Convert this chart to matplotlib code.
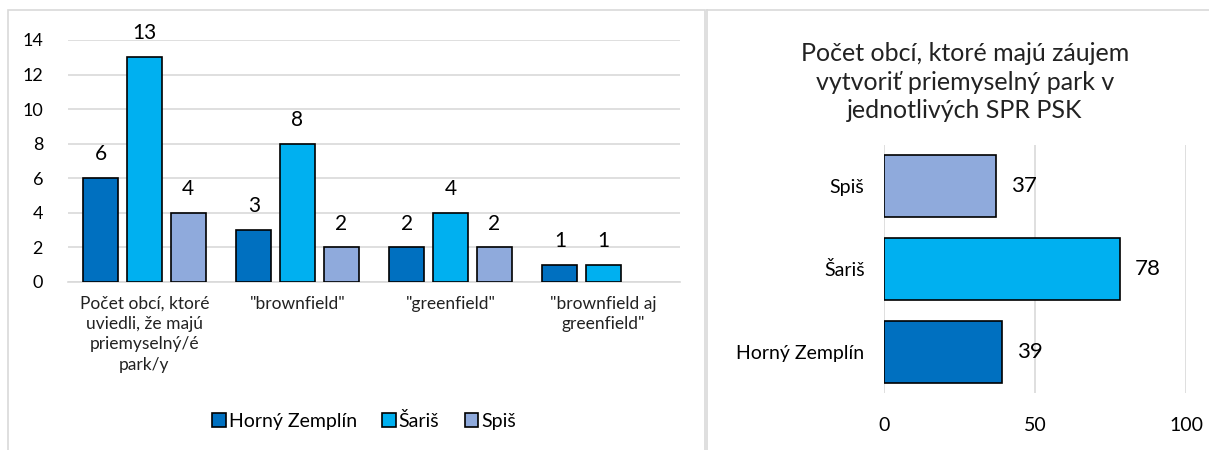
import matplotlib.pyplot as plt
import numpy as np
from matplotlib.patches import Rectangle
from matplotlib.lines import Line2D

plt.rcParams['font.family'] = ['Lato', 'DejaVu Sans']

# left chart data
categories = ['Počet obcí, ktoré\nuviedli, že majú\npriemyselný/é\npark/y',
              '"brownfield"', '"greenfield"', '"brownfield aj\ngreenfield"']
series_names = ['Horný Zemplín', 'Šariš', 'Spiš']
horny_zemplin = [6, 3, 2, 1]
saris = [13, 8, 4, 1]
spis = [4, 2, 2, 0]

# right chart data
regions = ['Horný Zemplín', 'Šariš', 'Spiš']
interest = [39, 78, 37]

colors = ['#0070C0', '#00B0F0', '#8FAADC']
grid_col = '#D9D9D9'

W, H = 1209, 450
fig = plt.figure(figsize=(W / 100, H / 100), dpi=100)


def px(x0, y0, x1, y1):
    # pixel box (top-left origin) -> figure fraction rect
    return [x0 / W, 1 - y1 / H, (x1 - x0) / W, (y1 - y0) / H]


# panel borders
fig.patches.append(Rectangle((8 / W, -0.1), (705 - 8) / W, 1.1 - 10 / H,
                             transform=fig.transFigure, fill=False,
                             edgecolor=grid_col, lw=1.2))
fig.lines.append(Line2D([707 / W, 707 / W], [0, 1 - 10 / H], transform=fig.transFigure,
                        color=grid_col, lw=1.2))
fig.lines.append(Line2D([707 / W, 1], [1 - 10 / H, 1 - 10 / H], transform=fig.transFigure,
                        color=grid_col, lw=1.2))

# ---- left grouped bar chart
ax = fig.add_axes(px(68, 40, 680, 282))
x = np.arange(len(categories))
step = 0.285
bw = 0.23
for i, (name, vals) in enumerate(zip(series_names, [horny_zemplin, saris, spis])):
    pos = x + (i - 1) * step
    bars = ax.bar(pos, vals, bw, color=colors[i], edgecolor='black', lw=1.2,
                  label=name, zorder=3)
    for b, v in zip(bars, vals):
        if v > 0:
            ax.annotate(str(v), (b.get_x() + b.get_width() / 2, v),
                        xytext=(0, 10), textcoords='offset points',
                        ha='center', va='bottom', fontsize=15)
        else:
            b.set_linewidth(0)
ax.set_xlim(-0.5, len(categories) - 0.5)
ax.set_ylim(0, 14)
ax.set_yticks(range(0, 15, 2))
ax.yaxis.grid(True, color=grid_col, lw=1.2)
ax.set_axisbelow(True)
for s in ax.spines.values():
    s.set_visible(False)
ax.spines['bottom'].set_visible(True)
ax.spines['bottom'].set_color(grid_col)
ax.spines['bottom'].set_linewidth(1.2)
ax.tick_params(axis='both', length=0)
ax.tick_params(axis='y', labelsize=13, pad=18)
ax.set_xticks(x)
ax.set_xticklabels(categories, fontsize=12.5, linespacing=1.33, color='#222222')
ax.tick_params(axis='x', pad=10)

handles, labels = ax.get_legend_handles_labels()
fig.legend(handles, labels, loc='center', bbox_to_anchor=(364 / W, 1 - 421 / H),
           ncol=3, frameon=False, fontsize=14, handlelength=0.7, handleheight=0.7,
           handletextpad=0.15, columnspacing=1.3)

# ---- right horizontal bar chart
ax2 = fig.add_axes(px(884, 145, 1186, 393))
y = np.arange(len(regions))
bars = ax2.barh(y, interest, 0.75, color=colors, edgecolor='black', lw=1.2, zorder=3)
for b, v in zip(bars, interest):
    ax2.annotate(str(v), (v, b.get_y() + b.get_height() / 2), xytext=(11, 0),
                 textcoords='offset points', ha='left', va='center', fontsize=16)
ax2.set_xlim(0, 100)
ax2.set_ylim(-0.5, len(regions) - 0.5)
ax2.set_xticks([0, 50, 100])
ax2.set_yticks(y)
ax2.set_yticklabels(regions)
ax2.xaxis.grid(True, color=grid_col, lw=1.2)
ax2.set_axisbelow(True)
for s in ax2.spines.values():
    s.set_visible(False)
ax2.tick_params(axis='both', length=0, labelsize=14)
ax2.tick_params(axis='x', pad=17)
ax2.tick_params(axis='y', pad=14)
fig.text(965 / W, 1 - 82 / H,
         'Počet obcí, ktoré majú záujem\nvytvoriť priemyselný park v\njednotlivých SPR PSK',
         ha='center', va='center', fontsize=18, linespacing=1.3, color='#222222')

fig.savefig('out.png', dpi=100)
